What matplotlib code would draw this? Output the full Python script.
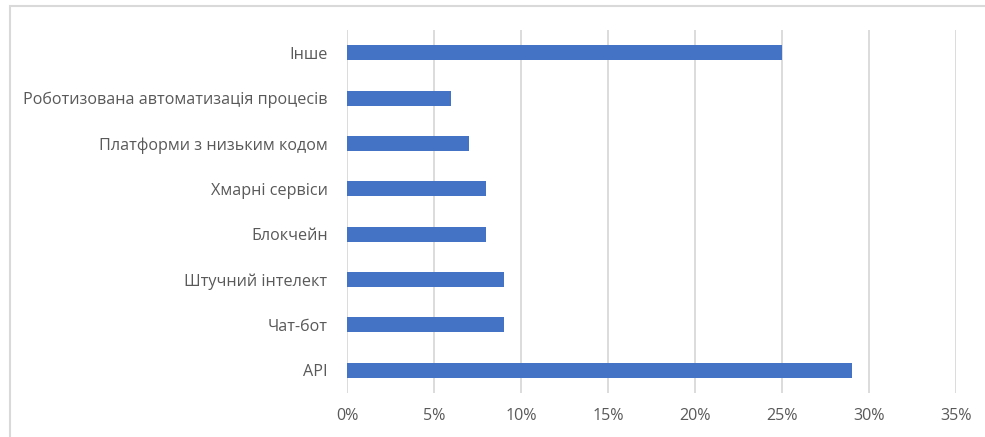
import matplotlib.pyplot as plt
from matplotlib.patches import Rectangle
from matplotlib.ticker import FuncFormatter

categories = ['API', 'Чат-бот', 'Штучний інтелект', 'Блокчейн', 'Хмарні сервіси',
              'Платформи з низьким кодом', 'Роботизована автоматизація процесів', 'Інше']
values = [29, 9, 9, 8, 8, 7, 6, 25]
x_ticks = [0, 5, 10, 15, 20, 25, 30, 35]

plt.rcParams['font.family'] = ['Open Sans', 'DejaVu Sans']

fig = plt.figure(figsize=(9.85, 4.37), dpi=100)
ax = fig.add_axes([347 / 985, 1 - 393 / 437, (956 - 347) / 985, (393 - 30) / 437])

ax.barh(range(len(categories)), values, height=0.33, color='#4472C4', zorder=3)

ax.set_xlim(0, 35)
ax.set_ylim(-0.5, len(categories) - 0.5)
ax.set_xticks(x_ticks)
ax.xaxis.set_major_formatter(FuncFormatter(lambda v, p: f'{int(v)}%'))
ax.set_yticks(range(len(categories)))
ax.set_yticklabels(categories)

ax.grid(axis='x', color='#D9D9D9', linewidth=1.3, zorder=0)
for s in ax.spines.values():
    s.set_visible(False)
ax.tick_params(axis='both', length=0, colors='#595959', labelsize=11.6)
ax.tick_params(axis='y', pad=14)
ax.tick_params(axis='x', pad=11)

# chart frame
fig.patches.append(Rectangle((10 / 985, -0.1), 1.1, 1 - 6 / 437 + 0.1, transform=fig.transFigure,
                             fill=False, edgecolor='#D9D9D9', linewidth=1.5))

fig.savefig('out.png', dpi=100)
